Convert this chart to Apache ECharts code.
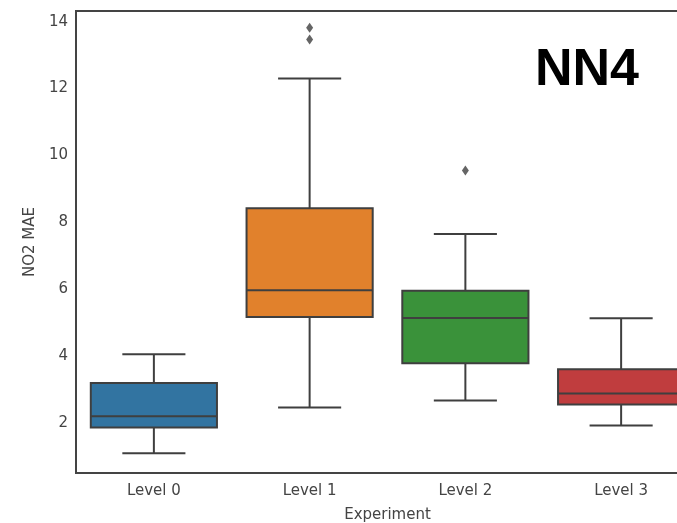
<!DOCTYPE html>
<html>
<head>
<meta charset="utf-8">
<script src="https://cdn.jsdelivr.net/npm/echarts@6/dist/echarts.min.js"></script>
<style>html,body{margin:0;padding:0;background:#fff;}#c{width:677px;height:523px;}</style>
</head>
<body>
<div id="c"></div>
<script>
var categories = ['Level 0', 'Level 1', 'Level 2', 'Level 3'];
var lowerWhisker = [1.09, 2.46, 2.67, 1.92];
var q1 = [1.86, 5.17, 3.78, 2.55];
var median = [2.20, 5.97, 5.14, 2.88];
var q3 = [3.19, 8.42, 5.95, 3.60];
var upperWhisker = [4.05, 12.30, 7.65, 5.13];
var outlierCat = [1, 1, 2];
var outlierVal = [13.82, 13.47, 9.55];
var boxColors = ['#3274a1', '#e1812c', '#3a923a', '#c03d3e'];
var yMin = 0.5, yMax = 14.32;

var boxData = categories.map(function (c, i) {
  return [i, lowerWhisker[i], q1[i], median[i], q3[i], upperWhisker[i]];
});
var outlierData = outlierCat.map(function (c, i) { return [c, outlierVal[i]]; });

var edge = '#3f3f3f';
function renderBox(params, api) {
  var idx = api.value(0);
  var band = api.size([1, 0])[0];
  var bw = band * 0.81;
  var cw = bw * 0.5;
  var pLow = api.coord([idx, api.value(1)]);
  var pQ1 = api.coord([idx, api.value(2)]);
  var pMed = api.coord([idx, api.value(3)]);
  var pQ3 = api.coord([idx, api.value(4)]);
  var pHigh = api.coord([idx, api.value(5)]);
  var x = pQ1[0];
  var ls = { stroke: edge, lineWidth: 2 };
  return {
    type: 'group',
    children: [
      { type: 'line', shape: { x1: x, y1: pQ3[1], x2: x, y2: pHigh[1] }, style: ls },
      { type: 'line', shape: { x1: x, y1: pQ1[1], x2: x, y2: pLow[1] }, style: ls },
      { type: 'line', shape: { x1: x - cw / 2, y1: pHigh[1], x2: x + cw / 2, y2: pHigh[1] }, style: ls },
      { type: 'line', shape: { x1: x - cw / 2, y1: pLow[1], x2: x + cw / 2, y2: pLow[1] }, style: ls },
      { type: 'rect', shape: { x: x - bw / 2, y: pQ3[1], width: bw, height: pQ1[1] - pQ3[1] },
        style: { fill: boxColors[idx], stroke: edge, lineWidth: 2 } },
      { type: 'line', shape: { x1: x - bw / 2, y1: pMed[1], x2: x + bw / 2, y2: pMed[1] }, style: ls }
    ]
  };
}

var chart = echarts.init(document.getElementById('c'), null, { renderer: 'canvas' });
chart.setOption({
  animation: false,
  backgroundColor: '#ffffff',
  grid: { left: 76, width: 623, top: 11, height: 462, show: true, borderColor: '#444', borderWidth: 2,
    backgroundColor: 'transparent', containLabel: false, outerBoundsMode: 'none' },
  xAxis: {
    type: 'category',
    data: categories,
    boundaryGap: true,
    name: 'Experiment',
    nameLocation: 'middle',
    nameGap: 35,
    nameTextStyle: { fontFamily: 'DejaVu Sans', fontSize: 15, color: '#444' },
    axisLine: { show: true, lineStyle: { color: '#444', width: 2 } },
    axisTick: { show: false },
    axisLabel: { fontFamily: 'DejaVu Sans', fontSize: 15, color: '#444', margin: 11 },
    splitLine: { show: false }
  },
  yAxis: {
    type: 'value',
    min: yMin,
    max: yMax,
    splitNumber: 7,
    name: 'NO2 MAE',
    nameLocation: 'middle',
    nameGap: 36,
    nameRotate: 90,
    nameTextStyle: { fontFamily: 'DejaVu Sans', fontSize: 15, color: '#444' },
    axisLine: { show: true, lineStyle: { color: '#444', width: 2 } },
    axisTick: { show: false },
    axisLabel: { fontFamily: 'DejaVu Sans', fontSize: 15, color: '#444', margin: 8, showMinLabel: false, showMaxLabel: false,
      formatter: function (v) { return (Math.abs(v - Math.round(v)) < 1e-6 && Math.round(v) % 2 === 0) ? String(Math.round(v)) : ''; } },
    splitLine: { show: false }
  },
  series: [
    {
      type: 'custom',
      renderItem: renderBox,
      data: boxData,
      encode: { x: 0, y: [1, 2, 3, 4, 5] },
      clip: false
    },
    {
      type: 'scatter',
      data: outlierData,
      symbol: 'diamond',
      symbolSize: [7, 10],
      itemStyle: { color: edge }
    }
  ],
  graphic: [
    { type: 'text', left: 535, top: 45,
      style: { text: 'NN4', fill: '#000', font: 'bold 52px "Liberation Sans"' } }
  ]
});
</script>
</body>
</html>
